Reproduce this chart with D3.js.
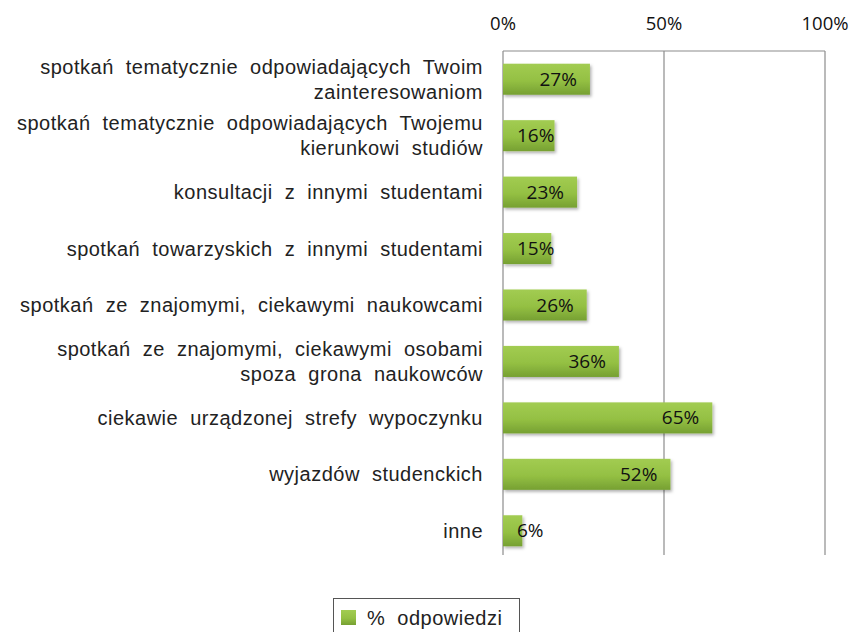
<!DOCTYPE html>
<html>
<head>
<meta charset="utf-8">
<script src="https://cdn.jsdelivr.net/npm/d3@7"></script>
<style>
  body { margin: 0; background: #fff; }
  svg { display: block; }
</style>
</head>
<body>
<svg id="chart"></svg>
<script>
let width = 851,
    height = 632;

// data
const categories = [
    ["spotkań tematycznie odpowiadających Twoim", "zainteresowaniom"],
    ["spotkań tematycznie odpowiadających Twojemu", "kierunkowi studiów"],
    ["konsultacji z innymi studentami"],
    ["spotkań towarzyskich z innymi studentami"],
    ["spotkań ze znajomymi, ciekawymi naukowcami"],
    ["spotkań ze znajomymi, ciekawymi osobami", "spoza grona naukowców"],
    ["ciekawie urządzonej strefy wypoczynku"],
    ["wyjazdów studenckich"],
    ["inne"]
];
const values = [27, 16, 23, 15, 26, 36, 65, 52, 6];
const tickValues = [0, 50, 100];
const seriesName = "% odpowiedzi";

let svg = d3.select("#chart").attr("width", width).attr("height", height);

let x = d3.scaleLinear().domain([0, 100]).range([503, 825]);
let y = d3.scaleBand()
    .domain(d3.range(values.length))
    .range([51, 559])
    .paddingInner(0.45)
    .paddingOuter(0.225);

let defs = svg.append("defs");
let grad = defs.append("linearGradient")
    .attr("id", "barGrad")
    .attr("x1", 0).attr("y1", 0).attr("x2", 0).attr("y2", 1);
grad.append("stop").attr("offset", "0%").attr("stop-color", "#a2cc52");
grad.append("stop").attr("offset", "55%").attr("stop-color", "#94c043");
grad.append("stop").attr("offset", "100%").attr("stop-color", "#76a032");

let shadow = defs.append("filter").attr("id", "shadow")
    .attr("x", "-10%").attr("y", "-20%").attr("width", "130%").attr("height", "160%");
shadow.append("feDropShadow")
    .attr("dx", 1.5).attr("dy", 2).attr("stdDeviation", 1.5)
    .attr("flood-color", "#000").attr("flood-opacity", 0.3);

// grid
let grid = svg.append("g");
grid.selectAll("line.v")
    .data(tickValues)
    .enter()
    .append("line")
    .attr("x1", (d) => x(d))
    .attr("x2", (d) => x(d))
    .attr("y1", 51)
    .attr("y2", 555)
    .attr("stroke", "#8c8c8c")
    .attr("stroke-width", 1.2);
grid.append("line")
    .attr("x1", x(0)).attr("x2", x(100))
    .attr("y1", 51).attr("y2", 51)
    .attr("stroke", "#8c8c8c")
    .attr("stroke-width", 1.2);

// top axis labels
svg.append("g")
    .selectAll("text")
    .data(tickValues)
    .enter()
    .append("text")
    .attr("x", (d) => x(d))
    .attr("y", 30)
    .attr("text-anchor", "middle")
    .attr("font-family", "Open Sans")
    .attr("font-size", "18.5px")
    .attr("fill", "#111")
    .text((d) => d + "%");

// bars
svg.append("g")
    .selectAll("rect")
    .data(values)
    .enter()
    .append("rect")
    .attr("x", x(0))
    .attr("y", (d, i) => y(i))
    .attr("width", (d) => x(d) - x(0))
    .attr("height", y.bandwidth())
    .attr("fill", "url(#barGrad)")
    .attr("filter", "url(#shadow)");

// bar labels
svg.append("g")
    .selectAll("text")
    .data(values)
    .enter()
    .append("text")
    .attr("y", (d, i) => y(i) + y.bandwidth() / 2 + 6.5)
    .attr("font-family", "Open Sans")
    .attr("font-size", "19px")
    .attr("fill", "#111")
    .text((d) => d + "%")
    .each(function (d) {
        const w = this.getComputedTextLength();
        const left = Math.max(x(d) - 13 - w, x(0) + 14);
        d3.select(this).attr("x", left);
    });

// category labels
let labels = svg.append("g")
    .selectAll("text")
    .data(categories)
    .enter()
    .append("text")
    .attr("text-anchor", "end")
    .attr("font-family", "'Liberation Sans', Arial, sans-serif")
    .attr("font-size", "20px")
    .attr("letter-spacing", "0.5px")
    .attr("word-spacing", "6px")
    .attr("fill", "#222");

labels.each(function (lines, i) {
    const cy = y(i) + y.bandwidth() / 2;
    const lh = 25;
    const start = cy - ((lines.length - 1) * lh) / 2 + 7;
    d3.select(this)
        .selectAll("tspan")
        .data(lines)
        .enter()
        .append("tspan")
        .attr("x", 483)
        .attr("y", (d, j) => start + j * lh)
        .text((d) => d);
});

// legend
let legend = svg.append("g");
legend.append("rect")
    .attr("x", 333.5).attr("y", 598.5)
    .attr("width", 186).attr("height", 40)
    .attr("fill", "#fff")
    .attr("stroke", "#555")
    .attr("stroke-width", 1);
legend.append("rect")
    .attr("x", 341).attr("y", 610)
    .attr("width", 15).attr("height", 15)
    .attr("fill", "url(#barGrad)");
legend.append("text")
    .attr("x", 367).attr("y", 625)
    .attr("font-family", "'Liberation Sans', Arial, sans-serif")
    .attr("font-size", "20px")
    .attr("letter-spacing", "0.5px")
    .attr("word-spacing", "6px")
    .attr("fill", "#222")
    .text(seriesName);
</script>
</body>
</html>
